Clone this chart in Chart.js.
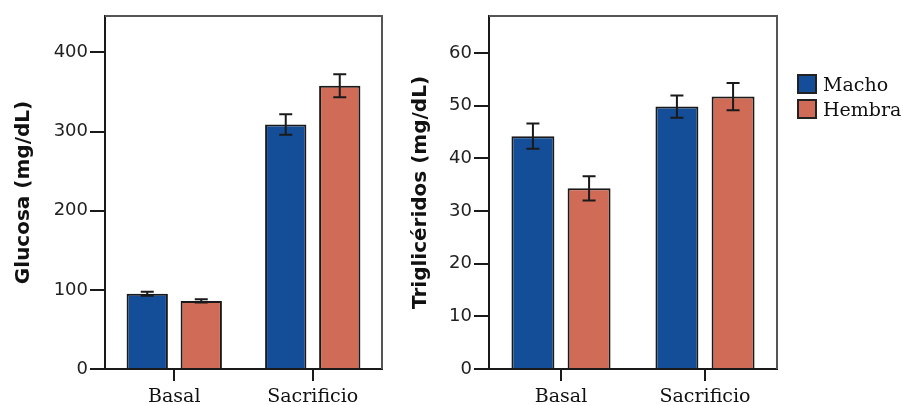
<!DOCTYPE html>
<html>
<head>
<meta charset="utf-8">
<script src="https://cdn.jsdelivr.net/npm/chart.js@4"></script>
<style>
  body { margin: 0; background: #fff; width: 903px; height: 405px; overflow: hidden; position: relative; }
  #glucosa { position: absolute; left: 0; top: 0; }
  #trig { position: absolute; left: 400px; top: 0; }
  .legend { position: absolute; left: 797px; top: 71px; font-family: 'DejaVu Serif'; font-size: 19px; color: #111; }
  .legend div { display: flex; align-items: center; height: 25px; }
  .legend span { display: inline-block; width: 16px; height: 16px; border: 2px solid #222; margin-right: 6px; }
</style>
</head>
<body>
<canvas id="glucosa" width="400" height="405"></canvas>
<canvas id="trig" width="503" height="405"></canvas>
<div class="legend" id="legend"></div>
<script>
const groups = ["Basal", "Sacrificio"];
const sexes = ["Macho", "Hembra"];
const colors = ["#154e98", "#d06b57"];

const glucosaMacho = [95, 309];
const glucosaHembra = [86, 358];
const glucosaMachoErr = [2.5, 13];
const glucosaHembraErr = [2, 14.5];
const glucosaTicks = [0, 100, 200, 300, 400];

const trigMacho = [44.2, 49.8];
const trigHembra = [34.3, 51.7];
const trigMachoErr = [2.4, 2.1];
const trigHembraErr = [2.3, 2.6];
const trigTicks = [0, 10, 20, 30, 40, 50, 60];

const ink = "#1a1a1a";

// error bars drawn from each dataset's "errors" array
const errorBars = {
  id: "errorBars",
  afterDatasetsDraw(chart) {
    const ctx = chart.ctx;
    const y = chart.scales.y;
    ctx.save();
    ctx.strokeStyle = ink;
    ctx.lineWidth = 2;
    chart.data.datasets.forEach((ds, di) => {
      chart.getDatasetMeta(di).data.forEach((bar, i) => {
        const v = ds.data[i], e = ds.errors[i];
        const top = y.getPixelForValue(v + e);
        const bot = y.getPixelForValue(v - e);
        ctx.beginPath();
        ctx.moveTo(bar.x, top); ctx.lineTo(bar.x, bot);
        ctx.moveTo(bar.x - 6.5, top); ctx.lineTo(bar.x + 6.5, top);
        ctx.moveTo(bar.x - 6.5, bot); ctx.lineTo(bar.x + 6.5, bot);
        ctx.stroke();
      });
    });
    ctx.restore();
  }
};

// top and right sides of the plot frame
const frame = {
  id: "frame",
  afterDraw(chart) {
    const { ctx, chartArea: a } = chart;
    ctx.save();
    ctx.strokeStyle = "#555";
    ctx.lineWidth = 2;
    ctx.beginPath();
    ctx.moveTo(a.left, a.top); ctx.lineTo(a.right, a.top); ctx.lineTo(a.right, a.bottom);
    ctx.stroke();
    ctx.restore();
  }
};

function makeChart(id, machoVals, hembraVals, machoErr, hembraErr, ticks, yMax, title, axisWidth, padRight, titlePad) {
  return new Chart(document.getElementById(id), {
    type: "bar",
    data: {
      labels: groups,
      datasets: [
        { label: sexes[0], data: machoVals, errors: machoErr, backgroundColor: colors[0] },
        { label: sexes[1], data: hembraVals, errors: hembraErr, backgroundColor: colors[1] }
      ]
    },
    options: {
      responsive: false,
      animation: false,
      layout: { padding: { left: 0, right: padRight, top: 16, bottom: 0 } },
      datasets: {
        bar: {
          borderColor: ink,
          borderWidth: 2,
          categoryPercentage: 0.78,
          barPercentage: 0.765
        }
      },
      plugins: { legend: { display: false }, tooltip: { enabled: false } },
      scales: {
        x: {
          afterFit: s => { s.height = 36; },
          grid: { offset: false, drawOnChartArea: false, tickLength: 12, color: ink, lineWidth: 2 },
          border: { color: ink, width: 2 },
          ticks: { font: { family: "DejaVu Serif", size: 19 }, color: "#111", padding: 5 }
        },
        y: {
          min: 0,
          max: yMax,
          afterBuildTicks: s => { s.ticks = ticks.map(v => ({ value: v })); },
          afterFit: s => { s.width = axisWidth; },
          grid: { drawOnChartArea: false, tickLength: 15, color: ink, lineWidth: 2 },
          border: { color: ink, width: 2 },
          ticks: { font: { family: "DejaVu Sans", size: 18 }, color: "#222", padding: 2 },
          title: {
            display: true,
            text: title,
            color: "#111",
            font: { family: "DejaVu Sans", size: 20, weight: "bold" },
            padding: { top: titlePad, bottom: 0 }
          }
        }
      }
    },
    plugins: [errorBars, frame]
  });
}

makeChart("glucosa", glucosaMacho, glucosaHembra, glucosaMachoErr, glucosaHembraErr,
  glucosaTicks, 446, "Glucosa (mg/dL)", 105, 18, 12);
makeChart("trig", trigMacho, trigHembra, trigMachoErr, trigHembraErr,
  trigTicks, 67, "Triglicéridos (mg/dL)", 89, 126, 9);

const legend = document.getElementById("legend");
sexes.forEach((name, i) => {
  const row = document.createElement("div");
  const box = document.createElement("span");
  box.style.background = colors[i];
  row.appendChild(box);
  row.appendChild(document.createTextNode(name));
  legend.appendChild(row);
});
</script>
</body>
</html>
